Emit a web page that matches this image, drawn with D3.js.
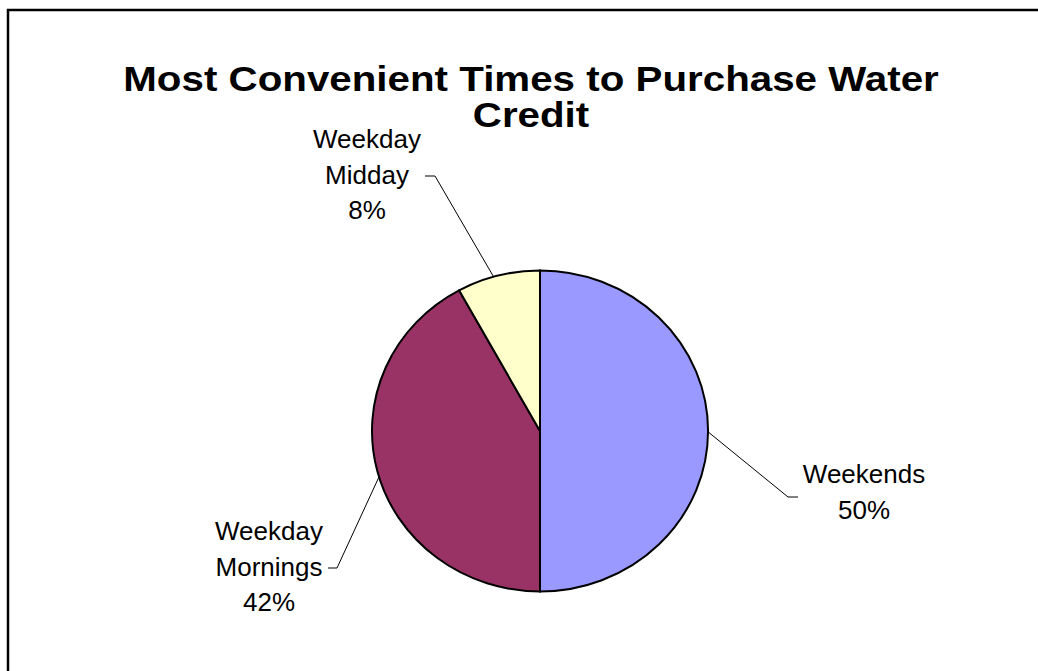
<!DOCTYPE html>
<html><head><meta charset="utf-8">
<script src="https://cdn.jsdelivr.net/npm/d3@7"></script>
<style>
html,body{margin:0;padding:0;background:#fff;}
svg{display:block;font-family:"Liberation Sans",Arial,sans-serif;}
</style></head>
<body>
<svg id="chart" width="1038" height="671"></svg>
<script>
const categories = ["Weekends", "Weekday Mornings", "Weekday Midday"];
const values = [50, 42, 8];
const labelLines = [["Weekends", "50%"], ["Weekday", "Mornings", "42%"], ["Weekday", "Midday", "8%"]];
const colors = ["#9999FF", "#993366", "#FFFFCC"];
const titleLines = ["Most Convenient Times to Purchase Water", "Credit"];

const svg = d3.select("#chart");
svg.append("rect").attr("x", 8).attr("y", 10).attr("width", 1100).attr("height", 800)
  .attr("fill", "none").attr("stroke", "#000").attr("stroke-width", 2.5);

const titleCx = 531, titleSx = 1.12;
svg.append("g").attr("transform", `translate(${titleCx},0) scale(${titleSx},1)`)
  .selectAll("text").data(titleLines).join("text")
  .attr("x", 0).attr("y", (d, i) => 91 + i * 36)
  .attr("text-anchor", "middle").attr("font-size", 36).attr("font-weight", "bold")
  .text(d => d);

const cx = 540, cy = 431, rx = 168, ry = 160.5;
const pie = d3.pie().sort(null).value(d => d);
const arcs = pie(values);
const arc = d3.arc().innerRadius(0).outerRadius(ry);
const g = svg.append("g").attr("transform", `translate(${cx},${cy}) scale(${rx / ry},1)`);
g.selectAll("path").data(arcs).join("path")
  .attr("d", arc).attr("fill", (d, i) => colors[i])
  .attr("stroke", "#000").attr("stroke-width", 2).attr("vector-effect", "non-scaling-stroke");

// leader lines: start on the ellipse edge at given angle, go to elbow, then short horizontal
const leaders = [
  {ang: 0.5 * Math.PI + 0.005, elbow: [788, 497], end: [798, 497], tx: 864, ty: 483},
  {ang: 1.5 * Math.PI - 0.29, elbow: [337, 568], end: [328, 568], tx: 269, ty: 540},
  {ang: 2 * Math.PI - 0.28, elbow: [435, 176], end: [425, 176], tx: 367, ty: 148}
];
const lg = svg.append("g");
leaders.forEach((L, i) => {
  const sx = cx + rx * Math.sin(L.ang), sy = cy - ry * Math.cos(L.ang);
  lg.append("polyline").attr("points", `${sx},${sy} ${L.elbow[0]},${L.elbow[1]} ${L.end[0]},${L.end[1]}`)
    .attr("fill", "none").attr("stroke", "#000").attr("stroke-width", 1);
  const t = lg.append("text").attr("text-anchor", "middle").attr("font-size", 26).attr("fill", "#000");
  labelLines[i].forEach((s, j) => t.append("tspan").attr("x", L.tx).attr("y", L.ty + j * 35.5).text(s));
});
</script>
</body></html>
